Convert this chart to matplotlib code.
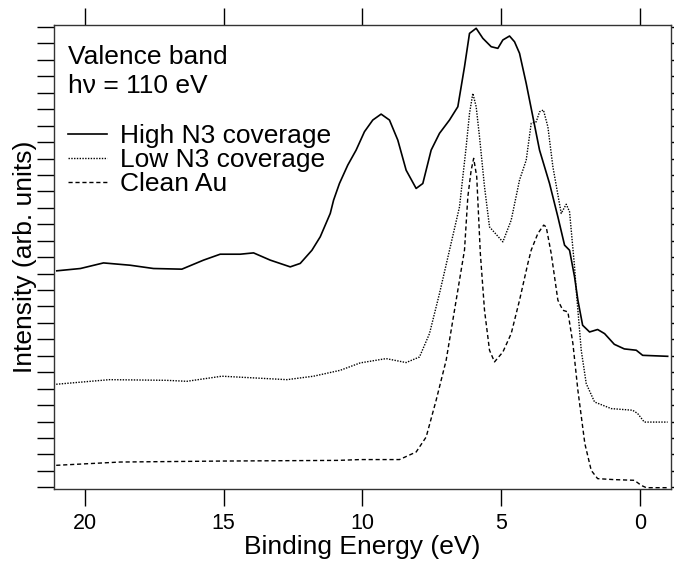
import matplotlib
matplotlib.use("Agg")
import matplotlib.pyplot as plt
from matplotlib.ticker import MultipleLocator, FixedLocator

plt.rcParams['font.family'] = ['Liberation Sans', 'DejaVu Sans']

# Binding energy (eV) and intensity (arb. units)
high_e = [21.0, 20.15, 19.32, 18.36, 17.52, 16.5, 15.72, 15.12, 14.4, 13.92, 13.32, 12.6,
          12.24, 11.82, 11.52, 11.16, 11.04, 10.83, 10.53, 10.23, 9.93, 9.63, 9.33, 9.03,
          8.73, 8.43, 8.07, 7.83, 7.53, 7.23, 6.87, 6.57, 6.33, 6.15, 5.91, 5.67, 5.37,
          5.13, 4.95, 4.71, 4.53, 4.35, 4.11, 3.87, 3.63, 3.27, 2.97, 2.73, 2.55, 2.37,
          2.25, 2.08, 1.83, 1.54, 1.29, 0.94, 0.58, 0.15, -0.08, -0.98]
high_i = [13.17, 13.31, 13.65, 13.51, 13.31, 13.27, 13.82, 14.18, 14.18, 14.26, 13.82, 13.41,
          13.62, 14.42, 15.24, 16.66, 17.47, 18.48, 19.6, 20.51, 21.63, 22.34, 22.7, 22.34,
          21.12, 19.29, 18.18, 18.48, 20.51, 21.53, 22.34, 23.15, 25.58, 27.61, 27.92, 27.31, 26.8,
          26.7, 27.21, 27.45, 27.1, 26.4, 24.57, 22.54, 20.51, 18.48, 16.45, 14.73, 14.42, 12.8,
          11.38, 9.86, 9.45, 9.6, 9.35, 8.7, 8.42, 8.34, 8.03, 7.97]

low_e = [21.02, 19.1, 17.06, 16.32, 15.06, 12.72, 11.76, 10.8, 10.08, 9.15, 8.43, 7.95,
         7.59, 7.23, 6.87, 6.51, 6.27, 6.15, 6.03, 5.91, 5.79, 5.61, 5.43, 4.95, 4.65,
         4.35, 4.11, 3.93, 3.75, 3.63, 3.49, 3.33, 3.15, 2.85, 2.67, 2.55, 2.37, 2.31,
         2.13, 1.95, 1.65, 1.05, 0.28, 0.1, -0.14, -0.98]
low_i = [6.27, 6.55, 6.51, 6.45, 6.76, 6.55, 6.76, 7.12, 7.57, 7.83, 7.59, 7.93,
         9.35, 11.79, 14.42, 17.06, 20.71, 22.74, 23.96, 23.15, 21.32, 18.28, 15.84, 14.93, 16.25,
         18.69, 19.9, 22.14, 22.23, 22.84, 22.95, 21.93, 19.5, 16.66, 17.22, 16.76, 13.41, 11.99,
         8.34, 6.31, 5.19, 4.79, 4.69, 4.49, 3.97, 3.97]

clean_e = [21.02, 18.72, 15.03, 10.89, 10.08, 8.67, 8.07, 7.71, 7.35, 6.99, 6.63, 6.33,
           6.21, 6.09, 6.0, 5.89, 5.76, 5.61, 5.43, 5.25, 4.95, 4.65, 4.35, 4.05, 3.93,
           3.69, 3.48, 3.39, 3.21, 2.97, 2.79, 2.61, 2.43, 2.25, 2.0, 1.77, 1.54, 0.94,
           0.22, -0.03, -0.21, -0.98]
clean_i = [1.34, 1.54, 1.6, 1.64, 1.69, 1.69, 2.15, 3.06, 5.3, 7.73, 11.38, 14.43,
           17.67, 19.29, 20.01, 18.89, 14.22, 10.77, 8.34, 7.63, 8.23, 9.35, 11.38, 13.62, 14.43,
           15.44, 15.95, 15.84, 14.22, 11.38, 10.77, 10.67, 8.75, 5.9, 2.66, 1.03, 0.53, 0.47,
           0.43, 0.12, -0.02, -0.02]

labels = ["High N3 coverage", "Low N3 coverage", "Clean Au"]
xticks = [20, 15, 10, 5, 0]

fig = plt.figure(figsize=(6.74, 5.61), dpi=100)
ax = fig.add_axes([54/674, 1-489/561, 617/674, 464/561])

ax.plot(high_e, high_i, color='black', lw=1.2, label=labels[0])
ax.plot(low_e, low_i, color='black', lw=1.0, linestyle=(0, (1, 1)), label=labels[1])
ax.plot(clean_e, clean_i, color='black', lw=1.0, linestyle=(0, (3, 2)), label=labels[2])

ax.set_xlim(21.1, -1.1)
ax.set_ylim(-0.1, 28.12)

ax.xaxis.set_major_locator(FixedLocator(xticks))
ax.set_xticklabels([str(t) for t in xticks], fontsize=15.5)
ax.yaxis.set_major_locator(MultipleLocator(1))
ax.set_yticklabels([])
ax.tick_params(axis='x', which='both', direction='out', length=12, width=1, top=True, bottom=True, pad=5)
ax.tick_params(axis='y', which='both', direction='out', length=12, width=1, left=True, right=True, labelleft=False)
for s in ax.spines.values():
    s.set_linewidth(1.0)
    s.set_color('#333333')

ax.set_xlabel("Binding Energy (eV)", fontsize=19, labelpad=1)
ax.set_ylabel("Intensity (arb. units)", fontsize=19, labelpad=0.5)

ax.text(0.0225, 0.916, "Valence band", transform=ax.transAxes, fontsize=19, va='baseline', ha='left')
ax.text(0.0225, 0.853, "h\u03bd = 110 eV", transform=ax.transAxes, fontsize=19, va='baseline', ha='left')

leg = ax.legend(loc='upper left', bbox_to_anchor=(0.023, 0.786), frameon=False, fontsize=19,
                handlelength=1.48, handletextpad=0.49, labelspacing=0.0, borderpad=0, borderaxespad=0)

fig.savefig("out.png", dpi=100)
